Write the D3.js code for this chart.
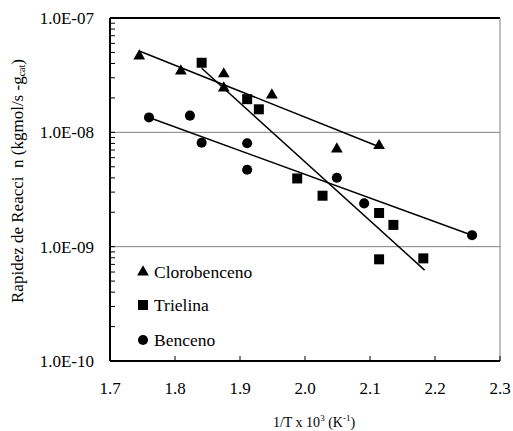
<!DOCTYPE html>
<html lang="es">
<head>
  <meta charset="UTF-8">
  <title>Rapidez de reacción vs 1/T</title>
  <script src="https://d3js.org/d3.v7.min.js"></script>
  <style>
    body { margin: 0; background: #fff; }
  </style>
</head>
<body>
<script>
  // data
  const seriesNames = ["Clorobenceno", "Trielina", "Benceno"];

  const xCloro = [1.745, 1.809, 1.875, 1.875, 1.949, 2.049, 2.114];
  const yCloro = [4.65e-8, 3.44e-8, 3.24e-8, 2.44e-8, 2.12e-8, 7.15e-9, 7.64e-9];

  const xTri = [1.841, 1.911, 1.929, 1.988, 2.027, 2.114, 2.136, 2.114, 2.182];
  const yTri = [4.06e-8, 1.95e-8, 1.59e-8, 3.95e-9, 2.79e-9, 1.97e-9, 1.55e-9, 7.75e-10, 7.9e-10];

  const xBen = [1.760, 1.823, 1.841, 1.911, 1.911, 2.049, 2.091, 2.257];
  const yBen = [1.35e-8, 1.40e-8, 8.11e-9, 8.02e-9, 4.71e-9, 4.01e-9, 2.39e-9, 1.26e-9];

  // fitted trend lines, start and end points
  const fitCloro = [[1.745, 5.14e-8], [2.114, 7.49e-9]];
  const fitTri = [[1.841, 3.63e-8], [2.184, 6.24e-10]];
  const fitBen = [[1.760, 1.35e-8], [2.257, 1.26e-9]];

  const xTicks = [1.7, 1.8, 1.9, 2.0, 2.1, 2.2, 2.3];
  const yTicks = [1e-7, 1e-8, 1e-9, 1e-10];
  const yTickLabels = ["1.0E-07", "1.0E-08", "1.0E-09", "1.0E-10"];

  const W = 513, H = 431;
  const margin = { top: 18, right: 13, bottom: 70, left: 110 };
  const width = W - margin.left - margin.right;
  const height = H - margin.top - margin.bottom;

  const svg = d3.select("body").append("svg")
    .attr("width", W)
    .attr("height", H)
    .attr("font-family", "'Liberation Serif', 'Times New Roman', 'DejaVu Serif', serif");

  const g = svg.append("g")
    .attr("transform", `translate(${margin.left},${margin.top})`);

  const x = d3.scaleLinear().domain([1.7, 2.3]).range([0, width]);
  const y = d3.scaleLog().domain([1e-10, 1e-7]).range([height, 0]);

  // gridlines
  g.selectAll(".grid")
    .data([1e-8, 1e-9])
    .enter().append("line")
    .attr("x1", 0).attr("x2", width)
    .attr("y1", d => y(d)).attr("y2", d => y(d))
    .attr("stroke", "#808080")
    .attr("stroke-width", 1);

  // frame: top and right
  g.append("line").attr("x1", 0).attr("x2", width).attr("y1", 0).attr("y2", 0)
    .attr("stroke", "#000").attr("stroke-width", 2);
  g.append("line").attr("x1", width).attr("x2", width).attr("y1", 0).attr("y2", height)
    .attr("stroke", "#808080").attr("stroke-width", 1);

  // minor ticks on the y axis (log)
  const minor = [];
  [1e-10, 1e-9, 1e-8].forEach(dec => {
    for (let k = 2; k <= 9; k++) minor.push(dec * k);
  });
  g.selectAll(".ytick")
    .data(minor.concat(yTicks))
    .enter().append("line")
    .attr("x1", 0).attr("x2", 5)
    .attr("y1", d => y(d)).attr("y2", d => y(d))
    .attr("stroke", "#000").attr("stroke-width", 1);

  // x axis ticks pointing up
  g.selectAll(".xtick")
    .data(xTicks)
    .enter().append("line")
    .attr("x1", d => x(d)).attr("x2", d => x(d))
    .attr("y1", height).attr("y2", height - 5)
    .attr("stroke", "#000").attr("stroke-width", 1);

  // axis lines
  g.append("line").attr("x1", 0).attr("x2", 0).attr("y1", 0).attr("y2", height)
    .attr("stroke", "#000").attr("stroke-width", 2);
  g.append("line").attr("x1", 0).attr("x2", width).attr("y1", height).attr("y2", height)
    .attr("stroke", "#000").attr("stroke-width", 2);

  // tick labels
  g.selectAll(".ylab")
    .data(yTicks)
    .enter().append("text")
    .attr("x", -16)
    .attr("y", d => y(d))
    .attr("dy", "0.35em")
    .attr("text-anchor", "end")
    .attr("font-size", 17)
    .text((d, i) => yTickLabels[i]);

  g.selectAll(".xlab")
    .data(xTicks)
    .enter().append("text")
    .attr("x", d => x(d))
    .attr("y", height + 33)
    .attr("text-anchor", "middle")
    .attr("font-size", 17)
    .text(d => d.toFixed(1));

  // axis titles
  const xt = svg.append("text")
    .attr("x", 314)
    .attr("y", 427)
    .attr("text-anchor", "middle")
    .attr("font-size", 14);
  xt.append("tspan").text("1/T x 10");
  xt.append("tspan").attr("font-size", 9).attr("dy", -6).text("3");
  xt.append("tspan").attr("dy", 6).text(" (K");
  xt.append("tspan").attr("font-size", 9).attr("dy", -6).text("-1");
  xt.append("tspan").attr("dy", 6).text(")");

  const yt = svg.append("text")
    .attr("transform", "translate(23,181) rotate(-90)")
    .attr("text-anchor", "middle")
    .attr("font-size", 17);
  yt.append("tspan").text("Rapidez de Reacci\u00a0\u00a0n (kgmol/s -g");
  yt.append("tspan").attr("font-size", 10).attr("dy", 2).text("cat");
  yt.append("tspan").attr("dy", -2).text(")");

  // trend lines
  const line = d3.line().x(d => x(d[0])).y(d => y(d[1]));
  [fitCloro, fitTri, fitBen].forEach(f => {
    g.append("path")
      .attr("d", line(f))
      .attr("fill", "none")
      .attr("stroke", "#000")
      .attr("stroke-width", 1.5);
  });

  const tri = d3.symbol().type(d3.symbolTriangle).size(60);
  const sq = d3.symbol().type(d3.symbolSquare).size(100);
  const circ = d3.symbol().type(d3.symbolCircle).size(80);

  function drawPoints(xs, ys, sym) {
    g.append("g").selectAll("path")
      .data(xs.map((v, i) => [v, ys[i]]))
      .enter().append("path")
      .attr("d", sym())
      .attr("transform", d => `translate(${x(d[0])},${y(d[1])})`)
      .attr("fill", "#000");
  }
  drawPoints(xCloro, yCloro, tri);
  drawPoints(xTri, yTri, sq);
  drawPoints(xBen, yBen, circ);

  // legend
  const legendSyms = [tri, sq, circ];
  const legendY = [272, 305, 340];
  seriesNames.forEach((name, i) => {
    svg.append("path")
      .attr("d", legendSyms[i]())
      .attr("transform", `translate(143,${legendY[i]})`)
      .attr("fill", "#000");
    svg.append("text")
      .attr("x", 154)
      .attr("y", legendY[i])
      .attr("dy", "0.35em")
      .attr("font-size", 17.5)
      .text(name);
  });
</script>
</body>
</html>
